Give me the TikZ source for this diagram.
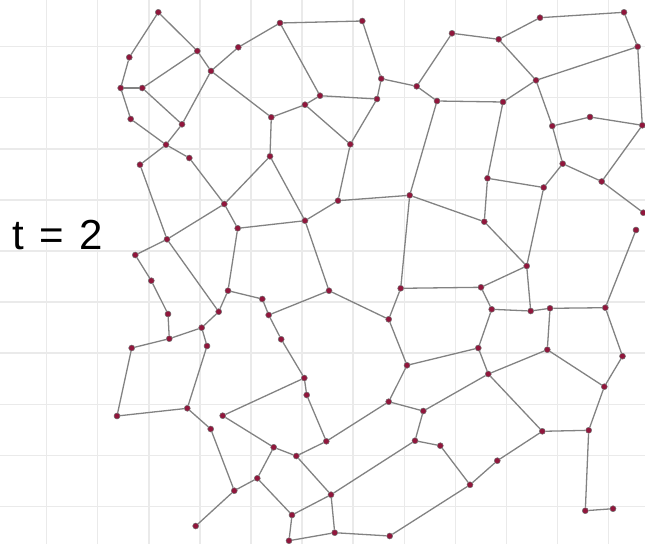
\documentclass[tikz,border=0pt]{standalone}
\usepackage{fontspec}
\newfontfamily\labelfont{Liberation Sans}
\usetikzlibrary{positioning}

\definecolor{dotred}{RGB}{145,22,60}
\definecolor{edgegray}{RGB}{130,130,130}
\definecolor{gridgray}{RGB}{234,234,234}

\begin{document}
\begin{tikzpicture}[
    x=1pt, y=-1pt,
    % Define styles for the mesh
    gridline/.style={draw=gridgray, line width=1.5pt},
    dot/.style={circle, fill=dotred, draw=black!55, line width=0.5pt, minimum size=6pt, inner sep=0pt},
    edge/.style={draw=edgegray, line width=1.3pt},
    steplabel/.style={font=\labelfont\fontsize{42}{50}\selectfont, anchor=base west, inner sep=0pt}
]
\useasboundingbox (0,0) rectangle (645,544);

% ==========================================
% Background grid
% ==========================================
\foreach \k in {0,...,11}
    \draw[gridline] ({46.6+51.1*\k},0) -- ({46.6+51.1*\k},544);
\foreach \k in {0,...,9}
    \draw[gridline] (0,{46.6+51.1*\k}) -- (645,{46.6+51.1*\k});

% ==========================================
% Label
% ==========================================
\node[steplabel] (time) at (12,249) {t\hspace{15.5pt}=\hspace{15.5pt}2};

% ==========================================
% Vertices
% ==========================================
\foreach \n/\x/\y in {
    a1/158.3/12.3, a2/129.3/57.3, a3/120.7/88, a4/142.3/88, a5/130.7/119,
    a6/197.3/51, a7/211/71, a8/238.3/47.3, a9/280/23, a10/182/124.3,
    a11/166/144.7, a12/189.3/158, a13/140/164.7, a14/271.3/117.3, a15/270/156.3,
    b2/362.3/21, b3/381.3/78.7, b4/416.7/86.3, b5/452/33.3, b6/437/101,
    b7/320/95.7, b8/305/104.7, b9/377/99, b10/350.3/144.3,
    c2/498.7/39.3, c3/540/17.7, c4/624/12.3, c5/637.7/46.7, c6/536/80.3,
    c7/503/102, c8/552.3/126, c9/590/117, c10/642.3/125.3, c11/562.7/163.7,
    c12/601.7/181.5, c13/487.5/178.3, c14/543.7/187.5,
    d1/224.3/204, d2/237.7/228.3, d3/167/239.3, d4/135.3/255, d5/151.3/280.7,
    d6/168/314, d7/169.3/338.7, d8/131.7/348, d9/228/290.7, d10/218.7/311.7,
    d11/201.7/327.7, d12/207/346, d13/262.3/299, d14/268.7/315, d15/281.2/339.3,
    e1/338/200.7, e2/409.7/195.3, e3/305/220.7, e4/329/290.7, e5/400.7/288.3,
    e6/388.7/319.3, e8/407/365.3,
    f4/643.3/212.7, f5/636/230, f6/484.3/221.7, f7/526.7/266, f8/481/287.3,
    f9/491.7/309.3, f10/530.7/311, f11/550/308.3, f12/605.3/307.7, f13/478.3/348,
    f14/547.3/349.7, f15/622.5/356.2,
    g1/117/416, g2/187.3/408.3, g3/210.7/429, g4/222.7/415.7, g5/273.7/447.3,
    g6/257.3/478.3, g7/234.3/490.7, g8/195.7/526,
    h1/304.3/378, h2/306.7/395, h4/326.3/441.3, h5/296.3/456, h7/388.7/401.7,
    h8/423.3/411, h9/415/440.7, h10/440.3/445.7, h11/470/484.8, h12/331/494.7,
    h13/292/515, h14/289/540.7, h15/334.7/532.7, h16/389.7/536,
    i1/488.3/374, i3/604.3/386.7, i4/542.3/431.3, i5/588.7/430.3, i6/497.3/460.7,
    i8/585.3/510.7, i9/613/508.7}
    \node[dot] (\n) at (\x,\y) {};

% ==========================================
% Edges
% ==========================================
\foreach \u/\v in {
    a1/a2, a2/a3, a3/a4, a3/a5, a1/a6, a6/a4, a6/a7, a7/a8, a8/a9, a7/a10,
    a4/a10, a10/a11, a5/a11, a11/a12, a11/a13, a7/a14, a14/a15, a14/b8,
    a15/d1, a15/e3, a12/d1, a13/d3,
    a9/b2, b2/b3, a9/b7, b3/b9, b7/b9, b7/b8, b8/b10, b9/b10, b3/b4, b4/b5,
    b4/b6, b6/c7, b6/e2, b10/e1, b5/c2,
    c2/c3, c3/c4, c4/c5, c5/c6, c2/c6, c6/c7, c6/c8, c8/c9, c9/c10, c5/c10,
    c8/c11, c11/c12, c10/c12, c11/c14, c13/c14, c7/c13,
    d1/d3, d1/d2, d2/e3, d3/d4, d3/d10, d4/d5, d5/d6, d6/d7, d7/d8, d7/d11,
    d11/d10, d10/d9, d9/d2, d9/d13, d13/d14, d14/d15, d14/e4, d11/d12,
    d8/g1, d12/g2, d15/h1,
    e1/e2, e3/e1, e3/e4, e4/e6, e6/e5, e5/e2, e5/f8, e6/e8, e8/f13, e2/f6, e8/h7,
    c13/f6, c14/f7, c12/f4, f6/f7, f7/f10, f7/f8, f8/f9, f9/f10, f10/f11,
    f11/f12, f11/f14, f9/f13, f12/f15, f5/f12, f13/i1, f14/i1, f14/i3,
    g1/g2, g2/g3, g3/g7, g4/g5, g4/h1, g7/g6, g6/g5, g5/h5, g7/g8, g6/h13,
    h1/h2, h2/h4, h4/h5, h4/h7, h7/h8, h8/i1, h8/h9, h9/h10, h10/h11, h9/h12,
    h5/h12, h12/h13, h13/h14, h14/h15, h12/h15, h15/h16, h16/h11,
    f15/i3, i3/i5, i1/i4, i4/i5, i4/i6, i6/h11, i5/i8, i8/i9}
    \draw[edge] (\u) -- (\v);

\end{tikzpicture}
\end{document}
